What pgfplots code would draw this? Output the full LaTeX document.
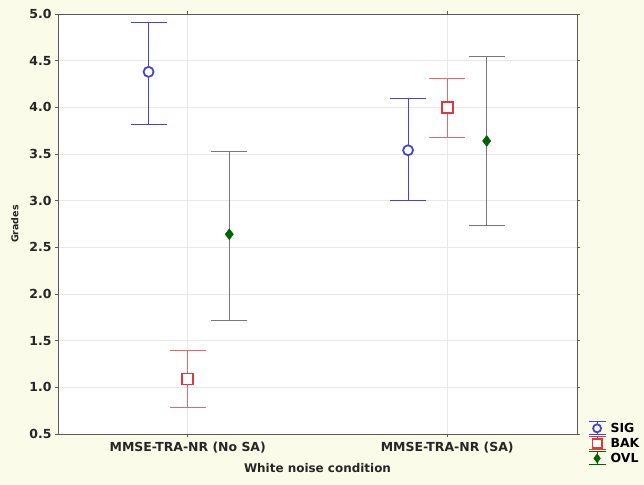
\documentclass[border=0pt]{standalone}
\usepackage{fontspec}
\setmainfont{DejaVu Sans}
\usepackage{pgfplots}
\pgfplotsset{compat=1.18}
\usetikzlibrary{backgrounds}
\definecolor{cream}{RGB}{251,251,233}
\definecolor{sigc}{RGB}{70,70,210}
\definecolor{bakc}{RGB}{225,55,65}
\definecolor{bakbar}{RGB}{235,100,110}
\definecolor{ovlc}{RGB}{0,100,0}
\definecolor{ovlbar}{RGB}{120,120,120}
\definecolor{gridc}{RGB}{232,232,232}
\definecolor{axc}{RGB}{90,90,90}

\pgfplotstableread{
x y ep em
0.849 4.38 0.53 0.56
1.849 3.54 0.55 0.54
}\sigtab
\pgfplotstableread{
x y ep em
1.0 1.09 0.31 0.31
2.0 4.00 0.31 0.32
}\baktab
\pgfplotstableread{
x y ep em
1.160 2.64 0.89 0.92
2.152 3.64 0.90 0.91
}\ovltab

\begin{document}
\begin{tikzpicture}[x=1bp,y=1bp]
\begin{axis}[
  at={(0,0)}, anchor=south west,
  scale only axis, width=519bp, height=420bp,
  xmin=0.5, xmax=2.5, ymin=0.5, ymax=5.0,
  xtick={1,2},
  xticklabels={MMSE-TRA-NR (No SA), MMSE-TRA-NR (SA)},
  ytick={0.5,1.0,1.5,2.0,2.5,3.0,3.5,4.0,4.5,5.0},
  yticklabel style={/pgf/number format/.cd, fixed, fixed zerofill, precision=1, assume math mode=true},
  ticklabel style={font=\bfseries\fontsize{12.5}{13}\selectfont, text=black!85},
  xticklabel style={yshift=-2bp},
  xlabel={White noise condition},
  ylabel={Grades},
  xlabel style={font=\bfseries\fontsize{12}{13}\selectfont, text=black!85, yshift=-3bp},
  ylabel style={font=\bfseries\fontsize{9.5}{10}\selectfont, text=black!85, yshift=4bp},
  grid=major,
  major grid style={gridc, line width=0.8bp},
  axis line style={axc, line width=0.9bp},
  tick align=outside,
  major tick length=3bp,
  tick style={axc, line width=0.6bp},
  axis background/.style={fill=white},
  legend style={at={(1.021,-0.075)}, anchor=south west, draw=none, fill=none,
    font=\bfseries\fontsize{12.5}{13}\selectfont, row sep=1bp, column sep=3bp, inner sep=0pt,
    nodes={inner sep=1.5bp}},
  legend cell align=left,
]
\addplot[only marks, mark=*, color=sigc, mark size=5bp, mark options={draw=sigc, fill=white, line width=1.8bp},
  legend image code/.code={%
    \draw[sigc, line width=1bp] (-8.5bp,6.5bp)--(8.5bp,6.5bp) (0,6.5bp)--(0,-6.5bp) (-8.5bp,-6.5bp)--(8.5bp,-6.5bp);
    \path[draw=sigc, fill=white, line width=1.6bp] plot[only marks, mark=*, mark size=4bp] coordinates {(0bp,0bp)};},
  error bars/.cd, y dir=both, y explicit, error mark=-,
  error bar style={sigc, line width=1bp},
  error mark options={rotate=90, sigc, mark size=18bp, line width=1bp}]
  table[x=x, y=y, y error plus=ep, y error minus=em] {\sigtab};
\addlegendentry{SIG}
\addplot[only marks, mark=square*, color=bakc, mark size=5.5bp, mark options={draw=bakc, fill=white, line width=1.8bp},
  legend image code/.code={%
    \draw[bakc, line width=1bp] (-8.5bp,6.5bp)--(8.5bp,6.5bp) (0,6.5bp)--(0,-6.5bp) (-8.5bp,-6.5bp)--(8.5bp,-6.5bp);
    \path[draw=bakc, fill=white, line width=1.6bp] plot[only marks, mark=square*, mark size=4.5bp] coordinates {(0bp,0bp)};},
  error bars/.cd, y dir=both, y explicit, error mark=-,
  error bar style={bakbar, line width=1bp},
  error mark options={rotate=90, bakbar, mark size=18bp, line width=1bp}]
  table[x=x, y=y, y error plus=ep, y error minus=em] {\baktab};
\addlegendentry{BAK}
\addplot[only marks, mark=diamond*, color=ovlc, mark size=5.5bp,
  legend image code/.code={%
    \draw[ovlc, line width=1bp] (-8.5bp,6.5bp)--(8.5bp,6.5bp) (0,6.5bp)--(0,-6.5bp) (-8.5bp,-6.5bp)--(8.5bp,-6.5bp);
    \path[draw=ovlc, fill=ovlc] plot[only marks, mark=diamond*, mark size=4.5bp] coordinates {(0bp,0bp)};},
  error bars/.cd, y dir=both, y explicit, error mark=-,
  error bar style={ovlbar, line width=1bp},
  error mark options={rotate=90, ovlbar, mark size=18bp, line width=1bp}]
  table[x=x, y=y, y error plus=ep, y error minus=em] {\ovltab};
\addlegendentry{OVL}
\end{axis}
\begin{scope}[on background layer]
  \fill[cream] (-58bp,-51bp) rectangle (586bp,434bp);
\end{scope}
\pgfresetboundingbox
\path (-58bp,-51bp) rectangle (586bp,434bp);
\end{tikzpicture}
\end{document}
